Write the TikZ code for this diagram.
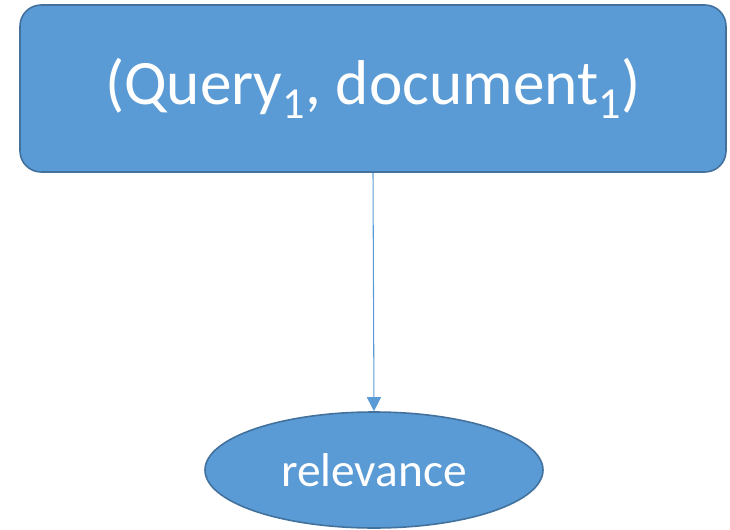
\documentclass[tikz,border=0pt]{standalone}
\usepackage{fontspec}
\setmainfont{Carlito}
\usepackage{tikz}
\usetikzlibrary{arrows.meta,positioning,shapes.geometric}

\definecolor{boxfill}{HTML}{5B9BD5}
\definecolor{boxline}{HTML}{41719C}

\begin{document}
\begin{tikzpicture}[
    pairbox/.style={draw=boxline,fill=boxfill,line width=0.9pt,rounded corners=12pt,
      minimum width=14.12cm,minimum height=3.34cm,text=white,font=\fontsize{36}{40}\selectfont},
    labelell/.style={ellipse,draw=boxline,fill=boxfill,line width=0.9pt,inner sep=0pt,
      minimum width=6.76cm,minimum height=2.32cm,text=white,font=\fontsize{27}{32}\selectfont},
    link/.style={draw=boxfill,line width=0.6pt,-{Triangle[width=8pt,length=8pt]}}
  ]
  \useasboundingbox (0,0) rectangle (14.6,10.58);

  % query-document pair
  \node[pairbox] (pair) at (7.46,8.81) {(Query\textsubscript{1}, document\textsubscript{1})};

  % relevance label
  \node[labelell] (rel) at (7.48,1.18) {relevance};

  \draw[link] (pair.south) -- (rel.north);
\end{tikzpicture}
\end{document}
